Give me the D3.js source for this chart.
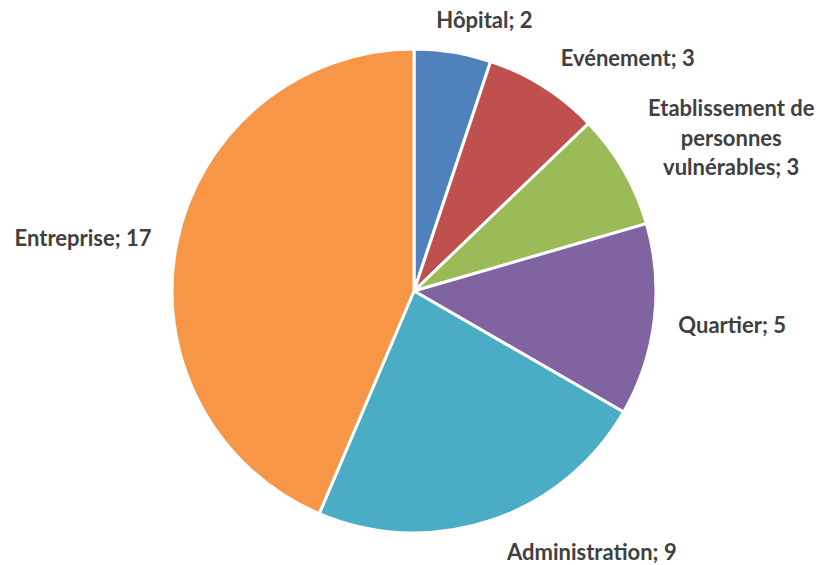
<!DOCTYPE html>
<html>
<head>
<meta charset="utf-8">
<script src="https://cdn.jsdelivr.net/npm/d3@7/dist/d3.min.js"></script>
<style>
  html, body { margin: 0; padding: 0; background: #fff; }
  svg { display: block; }
  text { font-family: Lato, "Open Sans", sans-serif; font-weight: bold; fill: #404040; }
</style>
</head>
<body>
<svg id="chart" width="819" height="565"></svg>
<script>
// Data
const categories = ["Hôpital", "Evénement", "Etablissement de personnes vulnérables", "Quartier", "Administration", "Entreprise"];
const values = [2, 3, 3, 5, 9, 17];
const colors = ["#4F81BD", "#C0504D", "#9BBB59", "#8064A2", "#4BACC6", "#F79646"];
// label lines (how Excel wrapped them)
const labelLines = [
  ["Hôpital; 2"],
  ["Evénement; 3"],
  ["Etablissement de", "personnes", "vulnérables; 3"],
  ["Quartier; 5"],
  ["Administration; 9"],
  ["Entreprise; 17"]
];

// Layout
const W = 819, H = 565;
const cx = 414, cy = 291, R = 242;
const labelR = 252;
const labelNudge = [[30, -14], [79, -12], [99, -49], [68, 12], [98, 30], [-84, 5]];
const lineH = 29.5;

const svg = d3.select("#chart");
const g = svg.append("g").attr("transform", `translate(${cx},${cy})`);

const data = categories.map((c, i) => ({ name: c, value: values[i], color: colors[i], lines: labelLines[i], nudge: labelNudge[i] }));

const pie = d3.pie().value(d => d.value).sort(null);
const arc = d3.arc().innerRadius(0).outerRadius(R);
const arcs = pie(data);

g.selectAll("path.slice")
  .data(arcs)
  .join("path")
  .attr("class", "slice")
  .attr("d", arc)
  .attr("fill", d => d.data.color)
  .attr("stroke", "#fff")
  .attr("stroke-width", 3)
  .attr("stroke-linejoin", "round");

const labels = g.selectAll("text.lbl")
  .data(arcs)
  .join("text")
  .attr("class", "lbl")
  .attr("text-anchor", "middle")
  .attr("font-size", 22)
  .attr("transform", d => {
    const a = (d.startAngle + d.endAngle) / 2;
    const x = labelR * Math.sin(a) + d.data.nudge[0];
    const y = -labelR * Math.cos(a) + d.data.nudge[1];
    return `translate(${x},${y})`;
  });

labels.selectAll("tspan")
  .data(d => d.data.lines)
  .join("tspan")
  .attr("x", 0)
  .attr("y", (t, i) => i * lineH)
  .text(t => t);
</script>
</body>
</html>
